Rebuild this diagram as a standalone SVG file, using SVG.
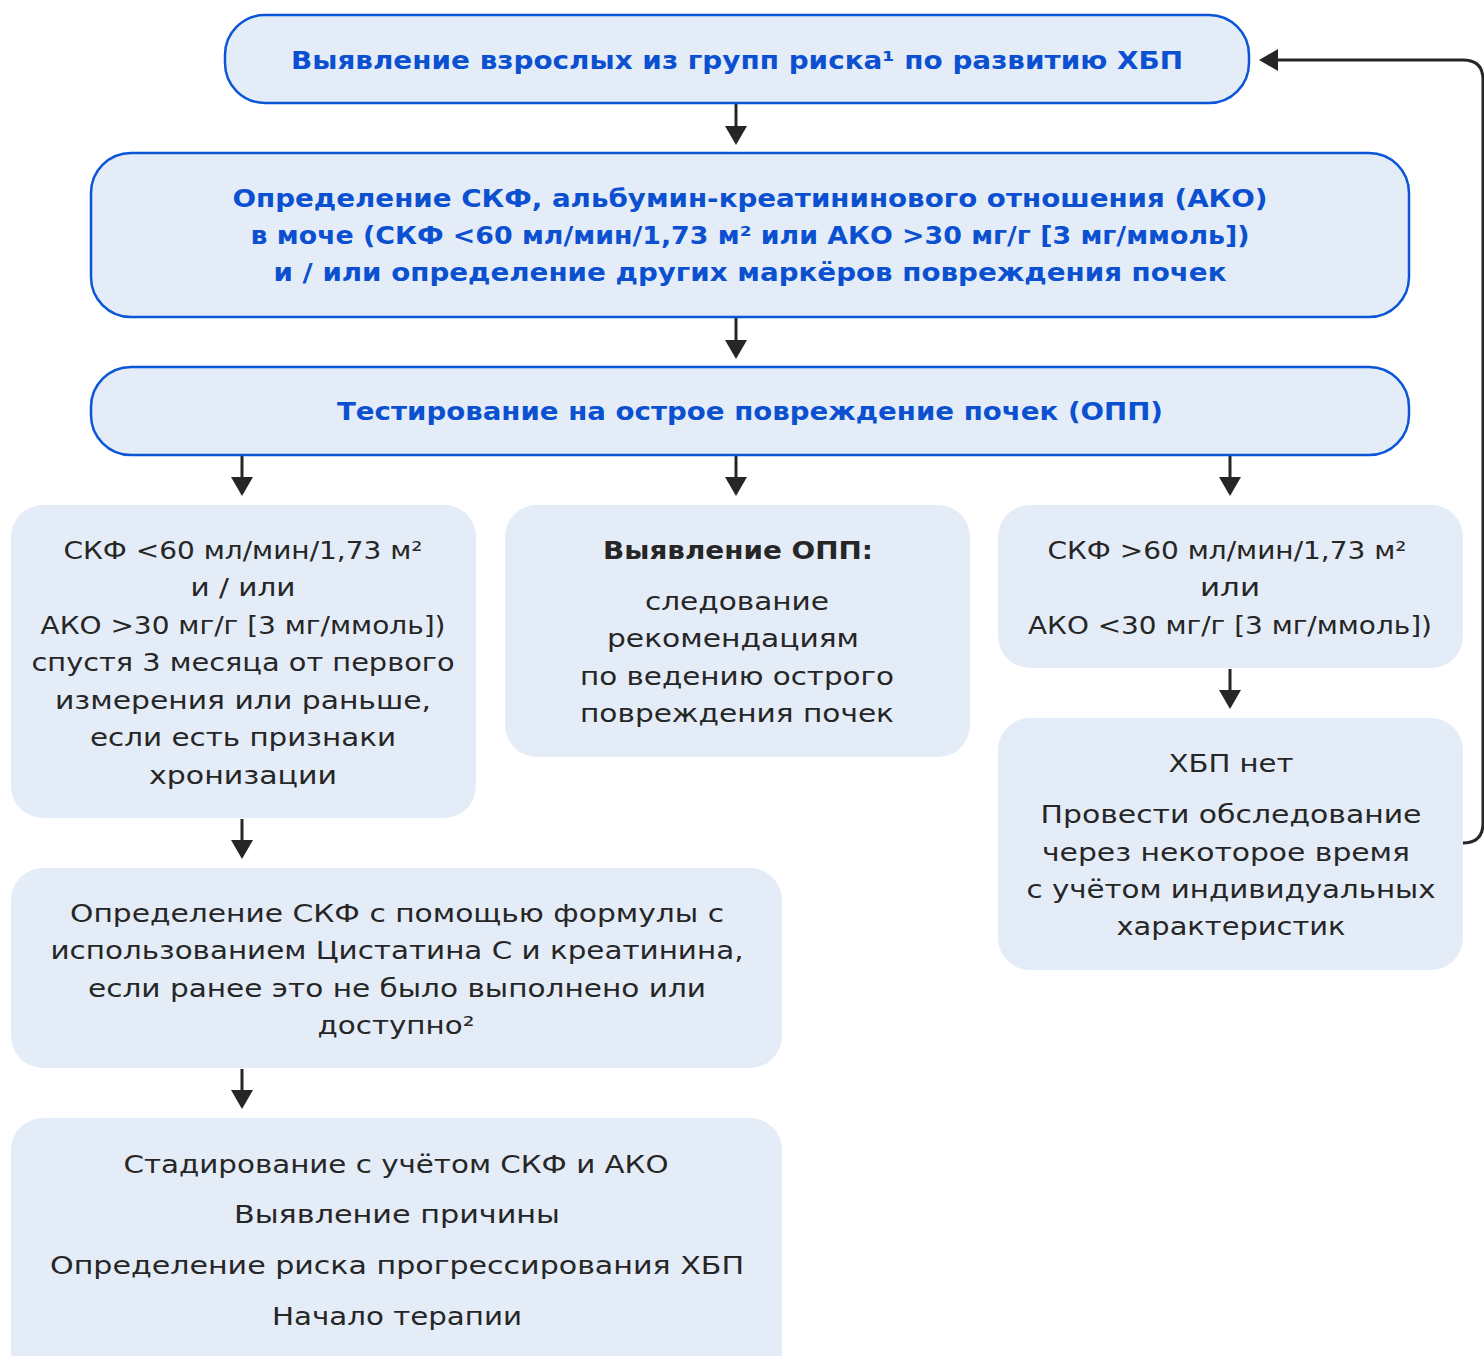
<svg xmlns="http://www.w3.org/2000/svg" width="1484" height="1356" viewBox="0 0 1484 1356">
<defs>
<style>
.bb{fill:#e4ecf8;stroke:#0a56d6;stroke-width:2.5}
.pb{fill:#e4ecf8}
.tb{font-family:"DejaVu Sans","Noto Sans",sans-serif;font-weight:700;font-size:25px;fill:#0a50d0;text-anchor:middle}
.tr{font-family:"DejaVu Sans","Noto Sans",sans-serif;font-weight:400;font-size:25px;fill:#262626;text-anchor:middle}
.tk{font-family:"DejaVu Sans","Noto Sans",sans-serif;font-weight:700;font-size:25px;fill:#262626;text-anchor:middle}
.cn{fill:none;stroke:#262626;stroke-width:3}
</style>
<marker id="ah" markerUnits="userSpaceOnUse" markerWidth="19" markerHeight="22" refX="0" refY="11" orient="auto" viewBox="0 0 19 22">
<path d="M0,0 L19,11 L0,22 z" fill="#262626"/>
</marker>
</defs>
<g id="connectors">
<path class="cn" d="M736,104 V126" marker-end="url(#ah)"/>
<path class="cn" d="M736,318 V340" marker-end="url(#ah)"/>
<path class="cn" d="M242,456 V477" marker-end="url(#ah)"/>
<path class="cn" d="M736,456 V477" marker-end="url(#ah)"/>
<path class="cn" d="M1230,456 V477" marker-end="url(#ah)"/>
<path class="cn" d="M1230,669 V690" marker-end="url(#ah)"/>
<path class="cn" d="M242,819 V840" marker-end="url(#ah)"/>
<path class="cn" d="M242,1069 V1090" marker-end="url(#ah)"/>
<path class="cn" d="M1463,843 Q1483,843 1483,823 V80 Q1483,60 1463,60 H1278" marker-end="url(#ah)"/>
</g>
<g id="n1">
<rect class="bb" x="225" y="15" width="1024" height="88" rx="40"/>
<text class="tb" x="737" y="69" textLength="892" lengthAdjust="spacingAndGlyphs">Выявление взрослых из групп риска¹ по развитию ХБП</text>
</g>
<g id="n2">
<rect class="bb" x="91" y="153" width="1318" height="164" rx="40"/>
<text class="tb" x="750" y="207" textLength="1035" lengthAdjust="spacingAndGlyphs">Определение СКФ, альбумин-креатининового отношения (АКО)</text>
<text class="tb" x="750" y="244" textLength="999" lengthAdjust="spacingAndGlyphs">в моче (СКФ &lt;60 мл/мин/1,73 м² или АКО &gt;30 мг/г [3 мг/ммоль])</text>
<text class="tb" x="750" y="281" textLength="953" lengthAdjust="spacingAndGlyphs">и / или определение других маркёров повреждения почек</text>
</g>
<g id="n3">
<rect class="bb" x="91" y="367" width="1318" height="88" rx="40"/>
<text class="tb" x="750" y="420" textLength="826" lengthAdjust="spacingAndGlyphs">Тестирование на острое повреждение почек (ОПП)</text>
</g>
<g id="n4">
<rect class="pb" x="11" y="505" width="465" height="313" rx="32"/>
<text class="tr" x="243" y="559" textLength="359" lengthAdjust="spacingAndGlyphs">СКФ &lt;60 мл/мин/1,73 м²</text>
<text class="tr" x="243" y="596" textLength="105" lengthAdjust="spacingAndGlyphs">и / или</text>
<text class="tr" x="243" y="634" textLength="405" lengthAdjust="spacingAndGlyphs">АКО &gt;30 мг/г [3 мг/ммоль])</text>
<text class="tr" x="243" y="671" textLength="423" lengthAdjust="spacingAndGlyphs">спустя 3 месяца от первого</text>
<text class="tr" x="243" y="709" textLength="376" lengthAdjust="spacingAndGlyphs">измерения или раньше,</text>
<text class="tr" x="243" y="746" textLength="306" lengthAdjust="spacingAndGlyphs">если есть признаки</text>
<text class="tr" x="243" y="784" textLength="188" lengthAdjust="spacingAndGlyphs">хронизации</text>
</g>
<g id="n5">
<rect class="pb" x="505" y="505" width="465" height="252" rx="32"/>
<text class="tk" x="738" y="559" textLength="270" lengthAdjust="spacingAndGlyphs">Выявление ОПП:</text>
<text class="tr" x="737" y="610" textLength="184" lengthAdjust="spacingAndGlyphs">следование</text>
<text class="tr" x="733" y="647" textLength="252" lengthAdjust="spacingAndGlyphs">рекомендациям</text>
<text class="tr" x="737" y="685" textLength="314" lengthAdjust="spacingAndGlyphs">по ведению острого</text>
<text class="tr" x="737" y="722" textLength="314" lengthAdjust="spacingAndGlyphs">повреждения почек</text>
</g>
<g id="n6">
<rect class="pb" x="998" y="505" width="465" height="163" rx="32"/>
<text class="tr" x="1227" y="559" textLength="359" lengthAdjust="spacingAndGlyphs">СКФ &gt;60 мл/мин/1,73 м²</text>
<text class="tr" x="1230" y="596" textLength="60" lengthAdjust="spacingAndGlyphs">или</text>
<text class="tr" x="1230" y="634" textLength="404" lengthAdjust="spacingAndGlyphs">АКО &lt;30 мг/г [3 мг/ммоль])</text>
</g>
<g id="n7">
<rect class="pb" x="998" y="718" width="465" height="252" rx="32"/>
<text class="tr" x="1231" y="772" textLength="125" lengthAdjust="spacingAndGlyphs">ХБП нет</text>
<text class="tr" x="1231" y="823" textLength="381" lengthAdjust="spacingAndGlyphs">Провести обследование</text>
<text class="tr" x="1226" y="861" textLength="368" lengthAdjust="spacingAndGlyphs">через некоторое время</text>
<text class="tr" x="1231" y="898" textLength="409" lengthAdjust="spacingAndGlyphs">с учётом индивидуальных</text>
<text class="tr" x="1231" y="935" textLength="229" lengthAdjust="spacingAndGlyphs">характеристик</text>
</g>
<g id="n8">
<rect class="pb" x="11" y="868" width="771" height="200" rx="32"/>
<text class="tr" x="397" y="922" textLength="654" lengthAdjust="spacingAndGlyphs">Определение СКФ с помощью формулы с</text>
<text class="tr" x="397" y="959" textLength="693" lengthAdjust="spacingAndGlyphs">использованием Цистатина С и креатинина,</text>
<text class="tr" x="397" y="997" textLength="618" lengthAdjust="spacingAndGlyphs">если ранее это не было выполнено или</text>
<text class="tr" x="396" y="1034" textLength="157" lengthAdjust="spacingAndGlyphs">доступно²</text>
</g>
<g id="n9">
<rect class="pb" x="11" y="1118" width="771" height="270" rx="32"/>
<text class="tr" x="396" y="1173" textLength="545" lengthAdjust="spacingAndGlyphs">Стадирование с учётом СКФ и АКО</text>
<text class="tr" x="397" y="1223" textLength="326" lengthAdjust="spacingAndGlyphs">Выявление причины</text>
<text class="tr" x="397" y="1274" textLength="694" lengthAdjust="spacingAndGlyphs">Определение риска прогрессирования ХБП</text>
<text class="tr" x="397" y="1325" textLength="250" lengthAdjust="spacingAndGlyphs">Начало терапии</text>
</g>
</svg>
